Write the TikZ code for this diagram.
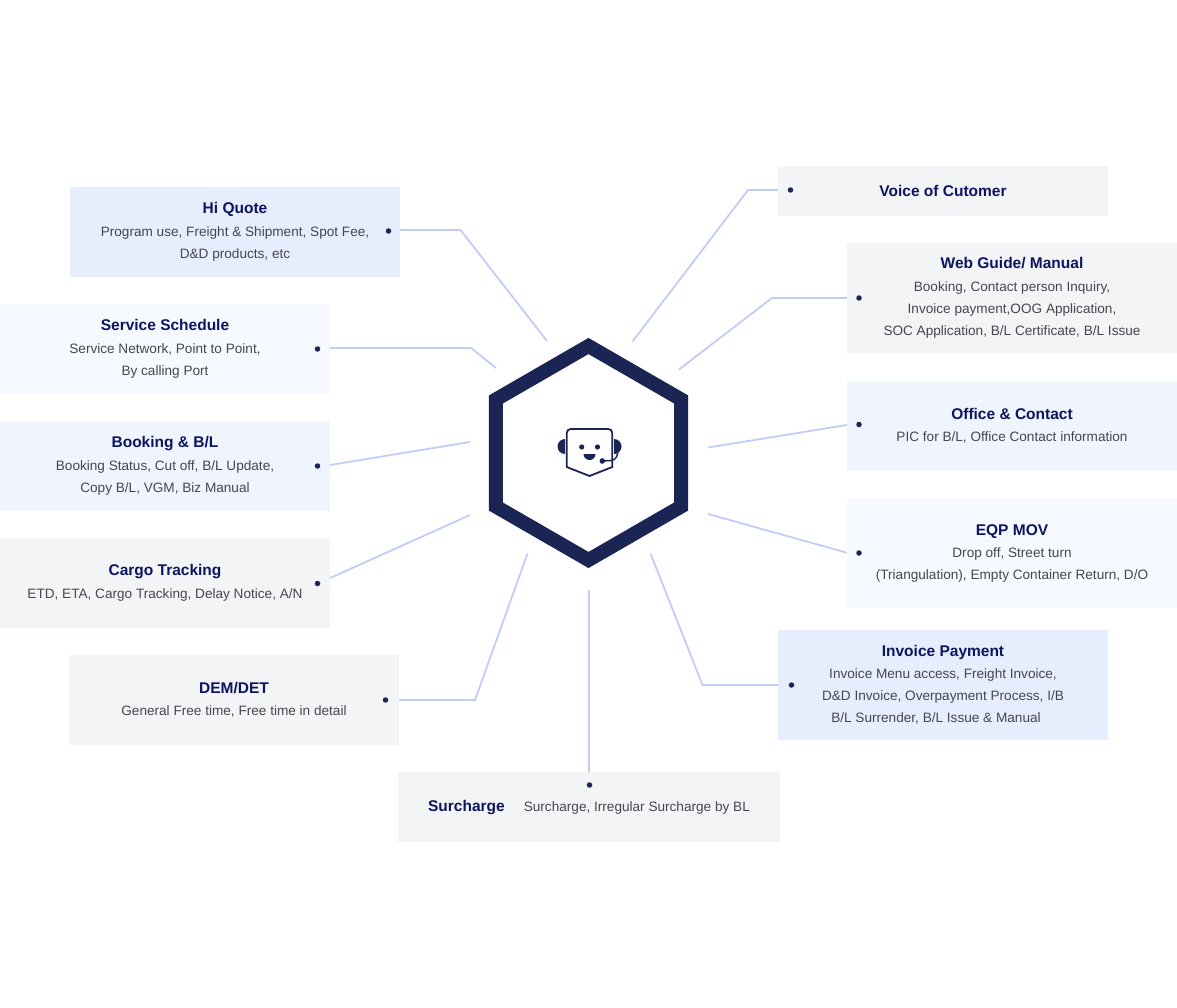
\documentclass[tikz,border=0pt]{standalone}
\usepackage{fontspec}
\setmainfont{Liberation Sans}
\usepackage{xcolor}
\usetikzlibrary{shapes.geometric}
\definecolor{navy}{HTML}{1B2554}
\definecolor{titleblue}{HTML}{0B1560}
\definecolor{bodygray}{HTML}{44474F}
\definecolor{linkblue}{HTML}{C0CDF7}
\definecolor{boxA}{HTML}{E6EDFD}
\definecolor{boxB}{HTML}{F6F9FF}
\definecolor{boxC}{HTML}{F0F4FD}
\definecolor{boxD}{HTML}{F3F4F6}
\newcommand{\boxtitle}[1]{{\fontsize{15.5}{22}\selectfont\bfseries\color{titleblue}#1}}
\newcommand{\boxhead}[1]{\raisebox{0.5pt}[\height][\depth]{\boxtitle{#1}}}

\begin{document}
\begin{tikzpicture}[
	x=1pt,y=-1pt,
	infobox/.style={
		rectangle,
		inner sep=0pt,
		minimum width=330pt,
		align=center,
		text=bodygray,
		font=\fontsize{13.6}{22}\selectfont},
	mydot/.style={
		circle,
		fill=navy,
		inner sep=0pt,
		minimum size=5.5pt},
	mylink/.style={draw=linkblue,line width=1.8pt},
	]
	\useasboundingbox (0,0) rectangle (1177,1008);
	
	% hexagon in the middle
	\node[regular polygon,regular polygon sides=6,shape border rotate=30,draw=navy,line width=14pt,minimum size=214pt,outer sep=0pt] (hub) at (588.5,453) {};
	
	% icon
	\draw[navy,line width=1.8pt] (566.7,467) [rounded corners=4pt] -- (566.7,429) -- (612.3,429) [sharp corners] -- (612.3,467) -- (589.5,476) -- cycle;
	\fill[navy] (565,439) arc (-90:-270:7.5) -- cycle;
	\fill[navy] (614,439) arc (-90:90:7.5) -- cycle;
	\fill[navy] (581.7,447) circle (2.6);
	\fill[navy] (597.5,447) circle (2.6);
	\fill[navy] (583.5,454) -- (595.5,454) arc (0:180:6) -- cycle;
	\fill[navy] (602.3,461) circle (2.8);
	\draw[navy,line width=1.5pt] (602.3,461) -- (611,460.5) .. controls (616,460) and (618,456) .. (618,449);
	
	% boxes
	\node[infobox,fill=boxA,minimum height=90pt] (hiquote) at (235,232) {\boxhead{Hi Quote}\\Program use, Freight \& Shipment, Spot Fee,\\D\&D products, etc};
	\node[infobox,fill=boxB,minimum height=90pt] (schedule) at (165,349) {\boxhead{Service Schedule}\\Service Network, Point to Point,\\By calling Port};
	\node[infobox,fill=boxC,minimum height=90pt] (booking) at (165,466) {\boxhead{Booking \& B/L}\\Booking Status, Cut off, B/L Update,\\Copy B/L, VGM, Biz Manual};
	\node[infobox,fill=boxD,minimum height=90pt] (cargo) at (165,583) {\boxhead{Cargo Tracking}\\ETD, ETA, Cargo Tracking, Delay Notice, A/N};
	\node[infobox,fill=boxD,minimum height=90pt] (demdet) at (234,700) {\boxhead{DEM/DET}\\General Free time, Free time in detail};
	\node[infobox,fill=boxD,minimum width=382pt,minimum height=70pt] (surcharge) at (589,807) {\raisebox{-1pt}[\height][\depth]{\boxtitle{Surcharge}\hspace{19pt}Surcharge, Irregular Surcharge by BL}};
	\node[infobox,fill=boxD,minimum height=50pt] (voice) at (943,191) {\boxhead{Voice of Cutomer}};
	\node[infobox,fill=boxD,minimum height=110pt] (webguide) at (1012,298) {\boxhead{Web Guide/ Manual}\\Booking, Contact person Inquiry,\\Invoice payment,OOG Application,\\SOC Application, B/L Certificate, B/L Issue};
	\node[infobox,fill=boxC,minimum height=90pt] (office) at (1012,426) {\boxhead{Office \& Contact}\\PIC for B/L, Office Contact information};
	\node[infobox,fill=boxB,minimum height=110pt] (eqpmov) at (1012,553) {\rule{0pt}{12pt}\boxtitle{EQP MOV}\\Drop off, Street turn\\(Triangulation), Empty Container Return, D/O};
	\node[infobox,fill=boxA,minimum height=110pt] (invoice) at (943,685) {\boxhead{Invoice Payment}\\Invoice Menu access, Freight Invoice,\\D\&D Invoice, Overpayment Process, I/B\\B/L Surrender, B/L Issue \& Manual\rule{14pt}{0pt}};
	
	% links with a bend
	\foreach \b/\a/\dx/\dy/\ly/\mx/\ex/\ey in {% box/anchor/dot x/dot y/line y/bend x/end x/end y
		hiquote/east/388.5/231/230/460.5/547/341,
		schedule/east/317.5/349/348/471/496/368,
		demdet/east/385.5/700/700/475/527.5/553.5,
		voice/west/790.5/190/190/748/632.5/341.5,
		webguide/west/859/298/298/772/679/369.5,
		invoice/west/791.5/685/685/702.5/650.5/553.5}
	{
		\node[mydot] (\b dot) at (\dx,\dy) {};
		\coordinate (\b bend) at (\mx,\ly);
		\coordinate (\b end) at (\ex,\ey);
		\draw[mylink] (\b.\a |- \b bend) -- (\b bend) -- (\b end);
	}
	
	% straight links
	\foreach \b/\a/\dx/\dy/\ly/\ex/\ey in {% box/anchor/dot x/dot y/line y/end x/end y
		booking/east/317.5/466/465/470/442,
		cargo/east/317.5/583.5/578/470/515,
		office/west/859/424.5/425/708/447.5,
		eqpmov/west/859/553/552.7/708/514}
	{
		\node[mydot] (\b dot) at (\dx,\dy) {};
		\coordinate (\b start) at (0,\ly);
		\coordinate (\b end) at (\ex,\ey);
		\draw[mylink] (\b.\a |- \b start) -- (\b end);
	}
	
	\node[mydot] (surchargedot) at (589.5,785) {};
	\coordinate (surchargeend) at (589,590);
	\draw[mylink] (surcharge.north -| surchargeend) -- (surchargeend);
	
	\end{tikzpicture}
\end{document}
